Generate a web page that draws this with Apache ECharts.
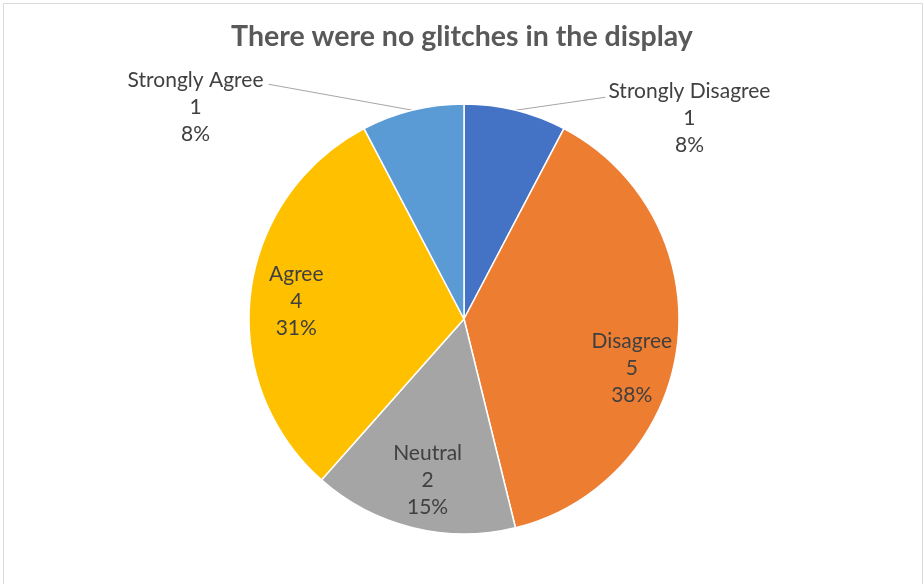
<!DOCTYPE html>
<html>
<head>
<meta charset="utf-8">
<script src="https://cdn.jsdelivr.net/npm/echarts@6/dist/echarts.min.js"></script>
<style>
  html, body { margin: 0; padding: 0; background: #fff; }
  #chart { width: 924px; height: 584px; }
</style>
</head>
<body>
<div id="chart"></div>
<script>
// Survey responses
const titleText = 'There were no glitches in the display';
const categories = ['Strongly Disagree', 'Disagree', 'Neutral', 'Agree', 'Strongly Agree'];
const counts = [1, 5, 2, 4, 1];
const sliceColors = ['#4472C4', '#ED7D31', '#A5A5A5', '#FFC000', '#5B9BD5'];
// Which labels sit outside the pie with a leader line
const outsideLabel = [true, false, false, false, true];

const FONT = 'Lato';
const CENTER = [464, 319];
const RADIUS = 215;

// Offsets (from the slice edge point) for the outside labels and leader line ends
const outsideOffsets = {
  0: { text: [174, -33], line: [90, -13] },
  4: { text: [-217, -44], line: [-144, -26] }
};
// Small nudges for the in-slice labels
const innerNudge = {
  1: [-4, 28],
  2: [5, -7],
  3: [4, 3]
};

const chart = echarts.init(document.getElementById('chart'), null, { renderer: 'canvas' });

const labelText = {
  color: '#404040',
  fontFamily: FONT,
  fontSize: 21,
  lineHeight: 27,
  align: 'center'
};

const mainData = categories.map((name, i) => ({
  name: name,
  value: counts[i],
  itemStyle: { color: sliceColors[i] },
  label: { show: outsideLabel[i] },
  labelLine: { show: outsideLabel[i] }
}));

const innerLabelData = categories.map((name, i) => ({
  name: name,
  value: counts[i],
  label: { show: !outsideLabel[i] }
}));

chart.setOption({
  animation: false,
  backgroundColor: '#ffffff',
  title: {
    text: titleText,
    left: 'center',
    top: 17,
    textStyle: {
      color: '#595959',
      fontFamily: FONT,
      fontWeight: 'bold',
      fontSize: 28.5
    }
  },
  graphic: [{
    type: 'rect',
    shape: { x: 3.5, y: 3.5, width: 919, height: 640 },
    style: { fill: 'none', stroke: '#d9d9d9', lineWidth: 1 },
    silent: true
  }],
  series: [
    {
      type: 'pie',
      center: CENTER,
      radius: [0, RADIUS],
      startAngle: 90,
      clockwise: true,
      percentPrecision: 0,
      itemStyle: { borderColor: '#ffffff', borderWidth: 1.5 },
      label: Object.assign({ formatter: '{b}\n{c}\n{d}%' }, labelText),
      labelLine: { lineStyle: { color: '#a6a6a6', width: 1 } },
      labelLayout: function (p) {
        const off = outsideOffsets[p.dataIndex];
        if (!off || !p.labelLinePoints) return {};
        const s = p.labelLinePoints[0];
        const end = [s[0] + off.line[0], s[1] + off.line[1]];
        return {
          x: s[0] + off.text[0],
          y: s[1] + off.text[1],
          align: 'center',
          verticalAlign: 'top',
          labelLinePoints: [s, end, end]
        };
      },
      data: mainData
    },
    {
      // transparent ring carrying the in-slice labels further out from the centre
      type: 'pie',
      center: CENTER,
      radius: [125, RADIUS],
      startAngle: 90,
      clockwise: true,
      percentPrecision: 0,
      silent: true,
      itemStyle: { color: 'rgba(0,0,0,0)', borderWidth: 0 },
      label: Object.assign({ position: 'inside', formatter: '{b}\n{c}\n{d}%' }, labelText),
      labelLine: { show: false },
      labelLayout: function (p) {
        const n = innerNudge[p.dataIndex];
        return n ? { dx: n[0], dy: n[1] } : {};
      },
      emphasis: { disabled: true },
      data: innerLabelData
    }
  ]
});
</script>
</body>
</html>
